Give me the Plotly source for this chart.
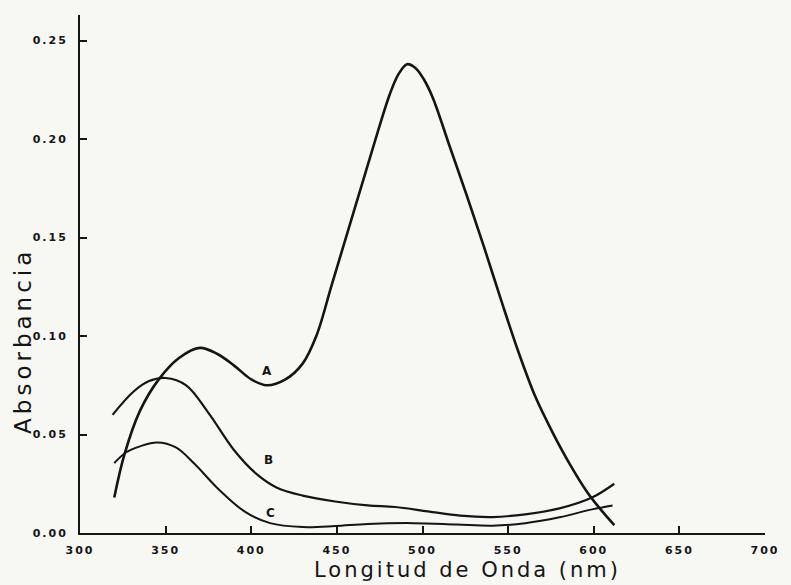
import plotly.graph_objects as go

# Curve A
nm_a = [320, 326, 335, 346, 358, 370, 380, 390, 400, 409, 420, 430, 438, 447, 456, 465, 474, 481, 486, 491, 496, 501, 506, 516, 526, 536, 546, 556, 566, 576, 586, 596, 604, 612]
abs_a = [0.018, 0.040, 0.062, 0.078, 0.089, 0.094, 0.091, 0.085, 0.078, 0.075, 0.078, 0.086, 0.100, 0.126, 0.152, 0.178, 0.204, 0.223, 0.233, 0.238, 0.236, 0.230, 0.221, 0.196, 0.171, 0.145, 0.118, 0.092, 0.069, 0.051, 0.035, 0.021, 0.012, 0.004]

# Curve B
nm_b = [319, 331, 340, 350, 362, 375, 390, 403, 415, 430, 449, 468, 484, 503, 522, 541, 560, 580, 599, 612]
abs_b = [0.060, 0.0716, 0.077, 0.0787, 0.075, 0.061, 0.042, 0.030, 0.023, 0.019, 0.016, 0.014, 0.0132, 0.011, 0.0088, 0.0081, 0.0095, 0.0125, 0.018, 0.025]

# Curve C
nm_c = [320, 327, 335, 345, 356, 367, 380, 396, 411, 430, 449, 468, 495, 520, 541, 560, 580, 599, 611]
abs_c = [0.0355, 0.041, 0.044, 0.046, 0.0435, 0.035, 0.023, 0.011, 0.005, 0.003, 0.0035, 0.0046, 0.005, 0.0043, 0.0037, 0.005, 0.008, 0.012, 0.014]

x_ticks = [300, 350, 400, 450, 500, 550, 600, 650, 700]
x_ticktext = ["300", "350", "400", "450", "500", "550", "600", "650", "700"]
y_ticks = [0.0, 0.05, 0.10, 0.15, 0.20, 0.25]
y_ticktext = ["0.00", "0.05", "0.10", "0.15", "0.20", "0.25"]

labels = ["A", "B", "C"]
label_x = [409, 410, 411]
label_y = [0.082, 0.037, 0.010]

ink = "#151515"
bg = "#f7f7f4"

fig = go.Figure()
for xs, ys, w in [(nm_a, abs_a, 2.6), (nm_b, abs_b, 2.2), (nm_c, abs_c, 2.0)]:
    fig.add_trace(go.Scatter(x=xs, y=ys, mode="lines",
                             line=dict(color=ink, width=w, shape="spline", smoothing=1.0),
                             hoverinfo="skip"))

def spaced(t, sp):
    return '<span style="letter-spacing:%dpx">%s</span>' % (sp, t)

for t, xv, yv in zip(labels, label_x, label_y):
    fig.add_annotation(x=xv, y=yv, text="<b>%s</b>" % t, showarrow=False,
                       font=dict(family="DejaVu Sans", size=12, color=ink))

fig.add_annotation(xref="paper", yref="paper", x=(474 - 80) / 696, y=(533 - 570) / 518,
                   text=spaced("Longitud de Onda (nm)", 3), showarrow=False,
                   xanchor="center", yanchor="middle",
                   font=dict(family="DejaVu Sans", size=21, color=ink))
fig.add_annotation(xref="paper", yref="paper", x=(22 - 80) / 696, y=(533 - 341) / 518,
                   text=spaced("Absorbancia", 4), showarrow=False, textangle=-90,
                   xanchor="center", yanchor="middle",
                   font=dict(family="DejaVu Sans", size=23, color=ink))

fig.update_layout(
    width=791, height=585,
    margin=dict(l=80, r=15, t=15, b=52),
    paper_bgcolor=bg, plot_bgcolor=bg,
    showlegend=False,
)
fig.update_xaxes(range=[300, 700], tickvals=x_ticks,
                 ticktext=[spaced(s, 2) for s in x_ticktext],
                 ticks="inside", ticklen=7, tickwidth=2, tickcolor=ink,
                 showline=True, linewidth=2, linecolor=ink,
                 showgrid=False, zeroline=False, ticklabelstandoff=6,
                 tickfont=dict(family="DejaVu Sans", size=11, color=ink, weight="bold"))
fig.update_yaxes(range=[0, 0.263], tickvals=y_ticks,
                 ticktext=[spaced(s, 2) for s in y_ticktext],
                 ticks="inside", ticklen=7, tickwidth=2, tickcolor=ink,
                 showline=True, linewidth=2, linecolor=ink,
                 showgrid=False, zeroline=False, ticklabelstandoff=8,
                 tickfont=dict(family="DejaVu Sans", size=11, color=ink, weight="bold"))

fig.write_html("out.html")
